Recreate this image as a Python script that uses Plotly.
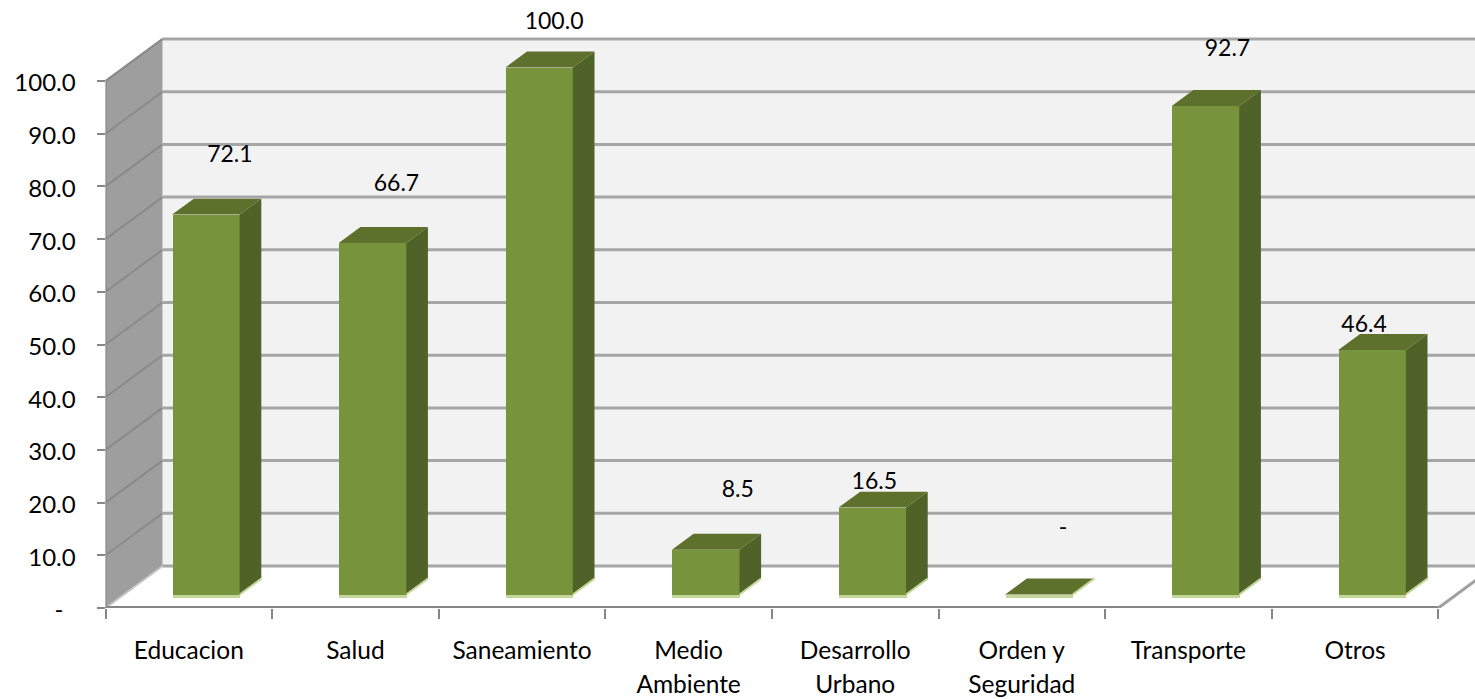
import plotly.graph_objects as go

# ---- data ----
categories = ["Educacion", "Salud", "Saneamiento", "Medio<br>Ambiente", "Desarrollo<br>Urbano",
              "Orden y<br>Seguridad", "Transporte", "Otros"]
values = [72.1, 66.7, 100.0, 8.5, 16.5, 0.0, 92.7, 46.4]
value_labels = ["72.1", "66.7", "100.0", "8.5", "16.5", "-", "92.7", "46.4"]
y_ticks = [0, 10, 20, 30, 40, 50, 60, 70, 80, 90, 100]
y_labels = ["-\u00a0\u00a0", "10.0", "20.0", "30.0", "40.0", "50.0", "60.0", "70.0", "80.0", "90.0", "100.0"]

# ---- geometry / style ----
W, H = 1475, 699
X0_PX, Y0_PX = 105.5, 608
PX_X, PX_Y = 166.6, 5.27
DX, DY = 57 / PX_X, 42 / PX_Y          # full oblique depth in axis units
F0, F1 = 0.32, 0.70                    # bar depth start/end (fraction of depth)
F0_X = 0.30                            # horizontal share of the bar's depth start
BAR_W = 67.5 / PX_X
N = len(categories)
# data-label nudges from bar centre/top (px)
LBL_DX = [24, 24, 15, 32, 2, 24, 22, -8]
LBL_DY = [58, 58, 44, 59, 24, 65, 56, 24]

FONT = "Lato"
GRID, AXIS = "#a6a6a6", "#868686"
FRONT, SIDE, TOP, EDGE = "#77933c", "#4f6228", "#5d712d", "#c3d69b"

xc = [i + 0.5 + F0_X * DX for i in range(N)]
base = F0 * DY

shapes = []
def poly(xs, ys, color):
    path = "M" + " L".join(f"{x},{y}" for x, y in zip(xs, ys)) + " Z"
    shapes.append(dict(type="path", path=path, fillcolor=color, line_width=0, layer="below"))
def seg(xs, ys, color, w):
    shapes.append(dict(type="line", x0=xs[0], y0=ys[0], x1=xs[1], y1=ys[1],
                       line=dict(color=color, width=w), layer="below"))

top_v = y_ticks[-1]
xmax = (W - X0_PX) / PX_X
poly([DX, N + DX, N + DX, DX], [DY, DY, top_v + DY, top_v + DY], "#f2f2f2")   # back wall
poly([0, DX, DX, 0], [0, DY, top_v + DY, top_v], "#9e9e9e")                    # left wall
for v in y_ticks:
    seg([0, DX], [v, v + DY], "#8a8a8a" if v else "#c4c4c4", 2)
    seg([DX, N + DX], [v + DY, v + DY], GRID, 3)
seg([0, DX], [top_v, top_v + DY], "#8a8a8a", 2)
seg([0, 0], [0, top_v], AXIS, 2)
seg([0, N], [0, 0], AXIS, 4)
seg([N, N + DX], [0, DY], "#a0a0a0", 3)

dx_b, dy_b = (F1 - F0) * DX, (F1 - F0) * DY
sx, sy, tx, ty, ex, ey = [], [], [], [], [], []
for c, v in zip(xc, values):
    l, r = c - BAR_W / 2, c + BAR_W / 2
    t = base + v
    if v > 0:
        sx += [r, r + dx_b, r + dx_b, r, r, None]
        sy += [base, base + dy_b, t + dy_b, t, base, None]
    tx += [l, r, r + dx_b, l + dx_b, l, None]
    ty += [t, t, t + dy_b, t + dy_b, t, None]
    ex += [r, r + dx_b, None]
    ey += [base, base + dy_b, None]

fig = go.Figure()
strip = 0.6
fig.add_bar(x=xc, y=[strip] * N, base=[base - strip] * N, width=[BAR_W] * N,
            marker=dict(color=EDGE, line_width=0), hoverinfo="skip", showlegend=False)
fig.add_bar(x=xc, y=values, base=[base] * N, width=[BAR_W] * N,
            marker=dict(color=FRONT, line_width=0), showlegend=False)
fig.add_scatter(x=sx, y=sy, mode="lines", fill="toself", fillcolor=SIDE, line=dict(width=0, color=SIDE),
                hoverinfo="skip", showlegend=False)
fig.add_scatter(x=tx, y=ty, mode="lines", fill="toself", fillcolor=TOP, line=dict(width=0, color=TOP),
                hoverinfo="skip", showlegend=False)
fig.add_scatter(x=ex, y=ey, mode="lines", line=dict(width=2, color=EDGE), hoverinfo="skip", showlegend=False)
fig.add_scatter(x=[c + d / PX_X for c, d in zip(xc, LBL_DX)],
                y=[base + v + d / PX_Y for v, d in zip(values, LBL_DY)],
                mode="text", text=value_labels, textposition="middle center",
                textfont=dict(family=FONT, size=23, color="#000000"),
                cliponaxis=False, hoverinfo="skip", showlegend=False)

span = '<span style="font-size:24.5px">'
fig.update_layout(
    width=W, height=H, autosize=False, bargap=0, barmode="overlay",
    margin=dict(l=0, r=0, t=0, b=0, pad=0),
    paper_bgcolor="#ffffff", plot_bgcolor="#ffffff",
    font=dict(family=FONT, size=24, color="#000000"),
    shapes=shapes,
    xaxis=dict(automargin=False, domain=[X0_PX / W, 1], range=[0, xmax], showgrid=False, zeroline=False, showline=False,
               tickmode="array", tickvals=[i + 0.5 for i in range(N)],
               ticktext=[span + c.replace("<br>", "</span><br>" + span) + "</span>" for c in categories],
               ticks="", tickfont=dict(family=FONT, size=26, color="#000000"), ticklabelstandoff=24,
               minor=dict(tickmode="array", tickvals=list(range(N + 1)), ticks="outside",
                          ticklen=10, tickwidth=2, tickcolor=AXIS)),
    yaxis=dict(automargin=False, domain=[(H - Y0_PX) / H, 1], range=[0, Y0_PX / PX_Y], showgrid=False, zeroline=False,
               showline=False, tickmode="array", tickvals=y_ticks, ticktext=y_labels,
               ticks="outside", ticklen=8, tickwidth=2, tickcolor=AXIS,
               tickfont=dict(family=FONT, size=24, color="#000000"), ticklabelstandoff=16, ticklabelshift=2),
)
fig.write_html("out.html", config={"displayModeBar": False},
               post_script="document.body.style.margin='0';document.body.style.overflow='hidden';")
